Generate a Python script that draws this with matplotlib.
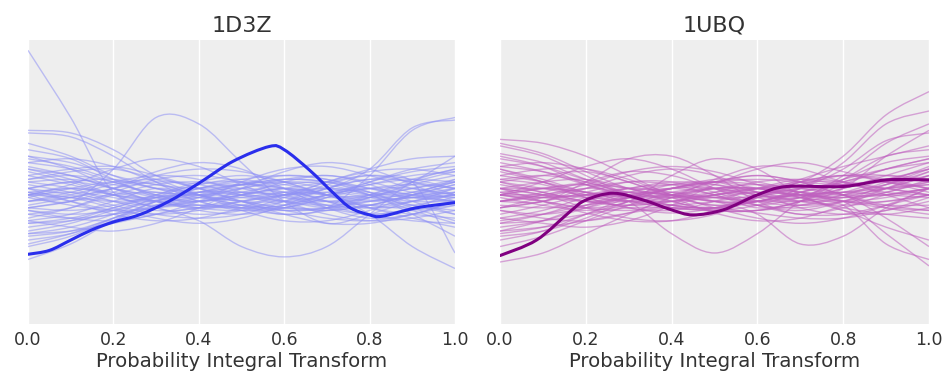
import matplotlib
matplotlib.use("Agg")
import matplotlib.pyplot as plt
from matplotlib.path import Path
from matplotlib.patches import PathPatch
import numpy as np

# grid of PIT values used for the reference (uniform) curves
grid = [0.0, 0.1, 0.2, 0.3, 0.4, 0.5, 0.6, 0.7, 0.8, 0.9, 1.0]

# observed LOO-PIT density, 1D3Z
pit_x_1d3z = [0.0, 0.05, 0.1, 0.15, 0.2, 0.26, 0.33, 0.4, 0.48, 0.565, 0.6, 0.66, 0.715, 0.755, 0.8, 0.83, 0.91, 1.0]
pit_y_1d3z = [0.54, 0.57, 0.65, 0.73, 0.79, 0.845, 0.95, 1.09, 1.26, 1.375, 1.35, 1.19, 1.015, 0.9, 0.845, 0.835, 0.9, 0.94]

# observed LOO-PIT density, 1UBQ
pit_x_1ubq = [0.0, 0.085, 0.163, 0.2, 0.264, 0.334, 0.4, 0.45, 0.52, 0.6, 0.668, 0.8, 0.9, 1.0]
pit_y_1ubq = [0.53, 0.65, 0.87, 0.96, 1.013, 0.96, 0.884, 0.845, 0.884, 1.0, 1.065, 1.065, 1.116, 1.116]

# uniform reference densities, 1D3Z
unif_1d3z = [
    [2.12, 1.6, 1.02, 0.95, 0.95, 0.98, 1.02, 1.0, 0.96, 0.98, 1.02],
    [1.0, 0.95, 1.2, 1.6, 1.55, 1.25, 0.95, 0.78, 0.85, 0.95, 1.0],
    [1.5, 1.48, 1.35, 1.15, 1.05, 1.0, 0.95, 0.9, 0.92, 1.0, 1.05],
    [1.48, 1.45, 1.3, 1.1, 0.95, 0.9, 0.92, 1.0, 1.05, 1.0, 0.95],
    [0.9, 0.95, 1.0, 1.02, 0.98, 0.92, 0.85, 0.9, 1.15, 1.5, 1.6],
    [1.0, 1.05, 1.0, 0.95, 0.9, 0.95, 1.0, 1.05, 1.2, 1.52, 1.58],
    [1.05, 1.1, 1.05, 0.98, 0.95, 1.0, 1.05, 1.0, 0.85, 0.6, 0.43],
    [1.0, 1.02, 0.98, 0.9, 0.8, 0.6, 0.52, 0.6, 0.85, 1.1, 1.2],
    [0.5, 0.62, 0.8, 0.95, 1.05, 1.08, 1.05, 1.0, 0.98, 1.0, 1.02],
    [0.62, 0.7, 0.82, 0.9, 0.95, 1.0, 1.05, 1.1, 1.15, 1.1, 1.05],
    [1.2, 1.15, 1.05, 0.95, 0.9, 0.92, 1.0, 1.05, 1.02, 0.98, 1.0],
    [0.85, 0.9, 1.0, 1.08, 1.1, 1.05, 0.98, 0.92, 0.9, 0.95, 1.05],
    [1.1, 1.05, 0.95, 0.88, 0.9, 1.0, 1.1, 1.15, 1.08, 0.95, 0.85],
    [0.95, 1.0, 1.08, 1.12, 1.05, 0.95, 0.88, 0.9, 1.0, 1.12, 1.2],
    [1.3, 1.2, 1.05, 0.95, 0.92, 0.95, 1.0, 1.02, 0.98, 0.92, 0.88],
    [0.75, 0.8, 0.9, 1.0, 1.1, 1.15, 1.1, 1.0, 0.95, 0.98, 1.05],
    [1.05, 1.1, 1.12, 1.05, 0.95, 0.88, 0.9, 0.98, 1.05, 1.08, 1.05],
    [0.9, 0.88, 0.92, 1.0, 1.08, 1.12, 1.05, 0.95, 0.9, 0.92, 0.98],
    [1.15, 1.08, 1.0, 0.98, 1.02, 1.08, 1.05, 0.95, 0.85, 0.8, 0.78],
    [0.8, 0.85, 0.95, 1.05, 1.0, 0.92, 0.9, 0.98, 1.1, 1.2, 1.25],
    [1.0, 0.98, 0.95, 0.98, 1.05, 1.1, 1.08, 1.0, 0.92, 0.9, 0.95],
    [1.25, 1.2, 1.1, 1.0, 0.95, 1.0, 1.05, 1.0, 0.9, 0.85, 0.82],
    [0.7, 0.75, 0.85, 0.98, 1.08, 1.1, 1.02, 0.95, 0.98, 1.08, 1.15],
    [1.08, 1.02, 0.95, 0.92, 0.95, 1.02, 1.08, 1.1, 1.05, 1.0, 0.98],
    [0.92, 0.98, 1.05, 1.1, 1.08, 1.0, 0.92, 0.88, 0.92, 1.0, 1.08],
    [1.35, 1.28, 1.12, 0.98, 0.9, 0.88, 0.92, 1.0, 1.05, 1.05, 1.0],
    [0.65, 0.7, 0.8, 0.92, 1.02, 1.08, 1.1, 1.05, 1.0, 1.02, 1.1],
    [1.02, 1.05, 1.02, 0.95, 0.88, 0.85, 0.9, 1.0, 1.1, 1.18, 1.22],
    [0.88, 0.85, 0.88, 0.95, 1.02, 1.05, 1.02, 0.98, 1.0, 1.05, 1.12],
    [1.12, 1.15, 1.1, 1.0, 0.92, 0.9, 0.95, 1.05, 1.12, 1.1, 1.0],
    [0.98, 0.92, 0.88, 0.9, 0.98, 1.08, 1.15, 1.12, 1.02, 0.9, 0.8],
    [1.18, 1.1, 1.0, 0.95, 0.98, 1.05, 1.1, 1.08, 1.0, 0.95, 0.95],
    [0.78, 0.82, 0.9, 0.98, 1.0, 0.98, 0.95, 0.95, 1.0, 1.1, 1.18],
    [1.05, 1.0, 0.92, 0.85, 0.82, 0.85, 0.95, 1.08, 1.15, 1.12, 1.05],
    [0.95, 1.02, 1.1, 1.15, 1.12, 1.02, 0.95, 0.92, 0.95, 0.98, 0.95],
    [1.4, 1.3, 1.15, 1.05, 1.02, 1.0, 0.98, 0.95, 0.92, 0.95, 1.0],
    [0.6, 0.68, 0.82, 0.95, 1.02, 1.02, 1.0, 1.02, 1.08, 1.12, 1.1],
    [1.02, 0.98, 0.9, 0.82, 0.78, 0.82, 0.92, 1.05, 1.12, 1.1, 0.55],
    [0.82, 0.9, 1.02, 1.12, 1.15, 1.1, 1.0, 0.9, 0.85, 0.88, 0.92],
    [1.1, 1.12, 1.08, 1.02, 1.0, 1.02, 1.0, 0.92, 0.85, 0.9, 1.02],
    [0.72, 0.78, 0.88, 0.96, 0.98, 0.95, 0.9, 0.88, 0.92, 1.0, 1.08],
    [1.22, 1.15, 1.05, 1.0, 1.0, 1.05, 1.12, 1.15, 1.1, 1.02, 0.98],
    [0.98, 1.05, 1.1, 1.08, 1.0, 0.9, 0.85, 0.88, 0.98, 1.1, 1.3],
    [1.28, 1.22, 1.12, 1.05, 1.0, 0.95, 0.9, 0.9, 0.95, 1.02, 1.1],
    [0.85, 0.82, 0.85, 0.92, 1.0, 1.08, 1.12, 1.1, 1.02, 0.92, 0.85],
    [1.25, 1.28, 1.22, 1.1, 1.0, 0.95, 0.95, 1.0, 1.08, 1.15, 1.18],
    [0.7, 0.72, 0.78, 0.85, 0.9, 0.92, 0.88, 0.82, 0.8, 0.85, 0.92],
    [1.0, 1.08, 1.2, 1.28, 1.22, 1.08, 0.95, 0.85, 0.8, 0.82, 0.88],
    [0.8, 0.75, 0.72, 0.78, 0.9, 1.05, 1.18, 1.25, 1.2, 1.08, 0.95],
    [1.15, 1.2, 1.22, 1.15, 1.05, 0.95, 0.85, 0.78, 0.78, 0.85, 0.95],
    [0.88, 0.82, 0.8, 0.85, 0.95, 1.1, 1.2, 1.22, 1.15, 1.05, 1.0],
    [1.3, 1.25, 1.15, 1.08, 1.05, 1.08, 1.12, 1.1, 1.0, 0.88, 0.78],
    [0.68, 0.72, 0.82, 0.95, 1.05, 1.12, 1.15, 1.12, 1.05, 0.98, 0.95],
    [1.05, 0.95, 0.85, 0.8, 0.82, 0.9, 1.0, 1.1, 1.2, 1.28, 1.3],
    [0.95, 0.98, 1.05, 1.15, 1.2, 1.18, 1.1, 1.0, 0.9, 0.82, 0.75],
    [1.12, 1.18, 1.2, 1.12, 1.0, 0.88, 0.8, 0.8, 0.88, 1.0, 1.12],
    [0.78, 0.8, 0.85, 0.9, 0.92, 0.9, 0.88, 0.9, 0.98, 1.05, 1.1],
    [1.2, 1.12, 1.0, 0.9, 0.85, 0.88, 0.98, 1.1, 1.18, 1.2, 1.15],
    [0.9, 0.95, 1.05, 1.18, 1.25, 1.2, 1.05, 0.9, 0.82, 0.85, 0.95],
    [1.02, 0.95, 0.88, 0.85, 0.88, 0.95, 1.02, 1.05, 1.0, 0.85, 0.68],
]

# uniform reference densities, 1UBQ
unif_1ubq = [
    [1.0, 1.0, 0.98, 0.95, 0.95, 1.0, 1.05, 1.1, 1.3, 1.62, 1.8],
    [0.95, 0.98, 1.0, 1.02, 1.0, 0.95, 0.95, 1.05, 1.25, 1.55, 1.65],
    [1.05, 1.0, 0.95, 0.95, 1.0, 1.05, 1.0, 0.98, 1.15, 1.4, 1.55],
    [1.0, 1.05, 1.08, 1.05, 0.98, 0.92, 0.95, 1.05, 1.2, 1.42, 1.48],
    [1.05, 1.05, 1.02, 0.98, 0.92, 0.9, 0.95, 1.0, 0.95, 0.7, 0.45],
    [1.43, 1.4, 1.3, 1.15, 1.0, 0.92, 0.95, 1.0, 1.02, 1.0, 0.98],
    [1.38, 1.3, 1.15, 1.0, 0.9, 0.9, 0.98, 1.05, 1.08, 1.05, 1.0],
    [0.48, 0.55, 0.7, 0.85, 0.98, 1.05, 1.05, 1.0, 0.98, 1.0, 1.05],
    [1.0, 1.05, 1.08, 0.95, 0.7, 0.55, 0.7, 0.95, 1.1, 1.15, 1.12],
    [0.95, 0.95, 1.1, 1.28, 1.3, 1.15, 0.95, 0.85, 0.9, 1.0, 1.05],
    [1.0, 0.95, 0.9, 0.95, 1.15, 1.28, 1.2, 1.0, 0.88, 0.85, 0.9],
    [1.1, 1.05, 1.0, 1.0, 1.05, 1.0, 0.9, 0.95, 1.12, 1.3, 1.35],
    [1.2, 1.12, 1.02, 0.95, 0.92, 0.95, 1.0, 1.05, 1.08, 1.1, 1.12],
    [0.82, 0.88, 0.98, 1.05, 1.08, 1.05, 0.98, 0.92, 0.95, 1.02, 1.1],
    [1.12, 1.08, 0.98, 0.9, 0.88, 0.95, 1.05, 1.12, 1.1, 1.0, 0.9],
    [0.9, 0.95, 1.02, 1.1, 1.1, 1.02, 0.92, 0.88, 0.95, 1.08, 1.2],
    [1.3, 1.22, 1.08, 0.98, 0.95, 0.98, 1.02, 1.0, 0.95, 0.92, 0.92],
    [0.7, 0.75, 0.85, 0.95, 1.05, 1.1, 1.08, 1.02, 1.0, 1.05, 1.15],
    [1.05, 1.1, 1.12, 1.05, 0.95, 0.88, 0.88, 0.95, 1.05, 1.12, 1.12],
    [0.92, 0.9, 0.92, 0.98, 1.05, 1.1, 1.05, 0.98, 0.95, 0.98, 1.05],
    [1.15, 1.1, 1.02, 0.98, 1.0, 1.05, 1.05, 0.98, 0.88, 0.75, 0.65],
    [0.78, 0.85, 0.95, 1.02, 1.0, 0.95, 0.92, 0.98, 1.12, 1.25, 1.3],
    [1.02, 0.98, 0.95, 0.98, 1.05, 1.12, 1.1, 1.02, 0.95, 0.95, 1.0],
    [1.25, 1.18, 1.08, 1.0, 0.98, 1.02, 1.05, 1.02, 0.95, 0.9, 0.88],
    [0.65, 0.72, 0.85, 0.98, 1.08, 1.1, 1.02, 0.98, 1.02, 1.12, 1.2],
    [1.08, 1.02, 0.95, 0.92, 0.95, 1.02, 1.1, 1.12, 1.08, 1.05, 1.08],
    [0.95, 1.0, 1.05, 1.1, 1.08, 1.0, 0.92, 0.9, 0.95, 1.05, 1.15],
    [1.32, 1.25, 1.12, 1.0, 0.92, 0.9, 0.95, 1.02, 1.08, 1.1, 1.05],
    [0.6, 0.68, 0.8, 0.92, 1.02, 1.05, 1.05, 1.02, 1.02, 1.08, 1.15],
    [1.02, 1.05, 1.02, 0.95, 0.9, 0.88, 0.92, 1.02, 1.12, 1.2, 1.25],
    [0.88, 0.85, 0.9, 0.98, 1.05, 1.05, 1.0, 0.95, 0.92, 0.62, 0.5],
    [1.12, 1.15, 1.1, 1.0, 0.92, 0.9, 0.98, 1.08, 1.15, 1.15, 1.1],
    [0.98, 0.92, 0.88, 0.92, 1.0, 1.1, 1.15, 1.1, 1.0, 0.92, 0.88],
    [1.18, 1.1, 1.0, 0.95, 0.98, 1.05, 1.08, 1.05, 1.0, 1.0, 1.05],
    [0.75, 0.8, 0.9, 1.0, 1.02, 0.98, 0.95, 0.98, 1.05, 1.15, 1.25],
    [1.05, 1.0, 0.9, 0.82, 0.8, 0.85, 0.98, 1.1, 1.15, 1.1, 1.02],
    [0.95, 1.02, 1.1, 1.18, 1.15, 1.05, 0.95, 0.92, 0.98, 1.05, 1.08],
    [1.4, 1.32, 1.18, 1.05, 1.0, 0.98, 0.98, 1.0, 1.02, 1.05, 1.1],
    [0.85, 0.92, 1.0, 1.05, 1.02, 0.95, 0.85, 0.62, 0.68, 0.9, 1.05],
    [1.0, 0.98, 1.0, 1.05, 1.1, 1.08, 1.0, 0.95, 1.05, 1.3, 1.5],
    [0.8, 0.85, 0.92, 0.98, 1.0, 0.98, 0.95, 0.95, 1.0, 1.08, 1.18],
    [1.22, 1.18, 1.1, 1.02, 0.98, 1.0, 1.05, 1.1, 1.1, 1.05, 1.0],
    [0.9, 0.98, 1.05, 1.02, 0.95, 0.88, 0.88, 0.95, 1.08, 1.2, 1.28],
    [1.1, 1.02, 0.95, 0.92, 0.95, 1.0, 1.02, 1.0, 0.98, 1.02, 1.12],
    [0.72, 0.8, 0.92, 1.02, 1.08, 1.08, 1.02, 0.95, 0.92, 0.95, 1.0],
    [1.22, 1.25, 1.2, 1.1, 1.0, 0.95, 0.95, 1.02, 1.1, 1.2, 1.28],
    [0.72, 0.75, 0.8, 0.86, 0.9, 0.9, 0.86, 0.82, 0.82, 0.88, 0.98],
    [1.0, 1.1, 1.22, 1.28, 1.2, 1.05, 0.92, 0.85, 0.85, 0.92, 1.0],
    [0.82, 0.78, 0.75, 0.8, 0.92, 1.08, 1.2, 1.25, 1.18, 1.1, 1.05],
    [1.15, 1.2, 1.2, 1.12, 1.0, 0.9, 0.82, 0.78, 0.82, 0.92, 1.05],
    [0.88, 0.82, 0.8, 0.86, 0.98, 1.12, 1.22, 1.2, 1.1, 1.02, 1.0],
    [1.28, 1.22, 1.12, 1.05, 1.05, 1.1, 1.15, 1.1, 1.0, 0.9, 0.85],
    [0.68, 0.72, 0.82, 0.95, 1.05, 1.1, 1.12, 1.1, 1.08, 1.12, 1.2],
    [1.05, 0.95, 0.86, 0.8, 0.8, 0.88, 1.0, 1.12, 1.22, 1.3, 1.38],
    [0.95, 1.0, 1.08, 1.18, 1.22, 1.18, 1.08, 0.98, 0.9, 0.85, 0.82],
    [1.1, 1.15, 1.18, 1.1, 0.98, 0.86, 0.8, 0.82, 0.92, 1.05, 1.18],
    [0.78, 0.8, 0.85, 0.9, 0.9, 0.88, 0.88, 0.92, 1.0, 1.1, 1.22],
    [1.2, 1.1, 0.98, 0.9, 0.86, 0.9, 1.0, 1.1, 1.15, 1.12, 1.05],
    [0.9, 0.95, 1.05, 1.15, 1.2, 1.15, 1.02, 0.9, 0.85, 0.88, 0.95],
    [1.0, 0.95, 0.9, 0.88, 0.92, 1.0, 1.05, 1.05, 1.0, 0.82, 0.6],
]

titles = ["1D3Z", "1UBQ"]
xticks = [0.0, 0.2, 0.4, 0.6, 0.8, 1.0]
xticklabels = ["0.0", "0.2", "0.4", "0.6", "0.8", "1.0"]

panels = [
    (pit_x_1d3z, pit_y_1d3z, unif_1d3z, "#2a2eec", "#9092f5"),
    (pit_x_1ubq, pit_y_1ubq, unif_1ubq, "#800080", "#bf60bf"),
]


def smooth_path(x, y):
    # cubic Bezier segments (Catmull-Rom tangents) through the given points
    pts = np.column_stack([x, y]).astype(float)
    ext = np.vstack([pts[0], pts, pts[-1]])
    verts = [pts[0]]
    codes = [Path.MOVETO]
    for i in range(len(pts) - 1):
        p0, p1, p2, p3 = ext[i], ext[i + 1], ext[i + 2], ext[i + 3]
        verts += [p1 + (p2 - p0) / 6, p2 - (p3 - p1) / 6, p2]
        codes += [Path.CURVE4] * 3
    return Path(verts, codes)


plt.rcParams["font.family"] = "DejaVu Sans"
fig = plt.figure(figsize=(9.42, 3.71), dpi=100)
ax1 = fig.add_axes([28 / 942, 1 - 324 / 371, 427 / 942, 284 / 371])
ax2 = fig.add_axes([500 / 942, 1 - 324 / 371, 429 / 942, 284 / 371])

for ax, title, (px, py, unif, dark, light) in zip([ax1, ax2], titles, panels):
    ax.set_facecolor("#eeeeee")
    for curve in unif:
        ax.add_patch(PathPatch(smooth_path(grid, curve), fill=False, edgecolor=light,
                               alpha=0.55, linewidth=1.0, zorder=1))
    ax.add_patch(PathPatch(smooth_path(px, py), fill=False, edgecolor=dark,
                           linewidth=2.2, zorder=3, capstyle="round"))
    ax.set_xlim(0, 1)
    ax.set_ylim(0, 2.2)
    ax.set_yticks([])
    ax.set_xticks(xticks)
    ax.set_xticklabels(xticklabels, fontsize=12.5, color="#333333")
    ax.tick_params(axis="x", length=0, pad=5)
    ax.grid(axis="x", color="white", linewidth=1.0)
    ax.set_axisbelow(True)
    for s in ax.spines.values():
        s.set_visible(False)
    ax.set_title(title, fontsize=16, color="#333333", pad=6)
    ax.set_xlabel("Probability Integral Transform", fontsize=14.2, color="#333333", labelpad=2)

fig.savefig("out.png", dpi=100, facecolor="white")
